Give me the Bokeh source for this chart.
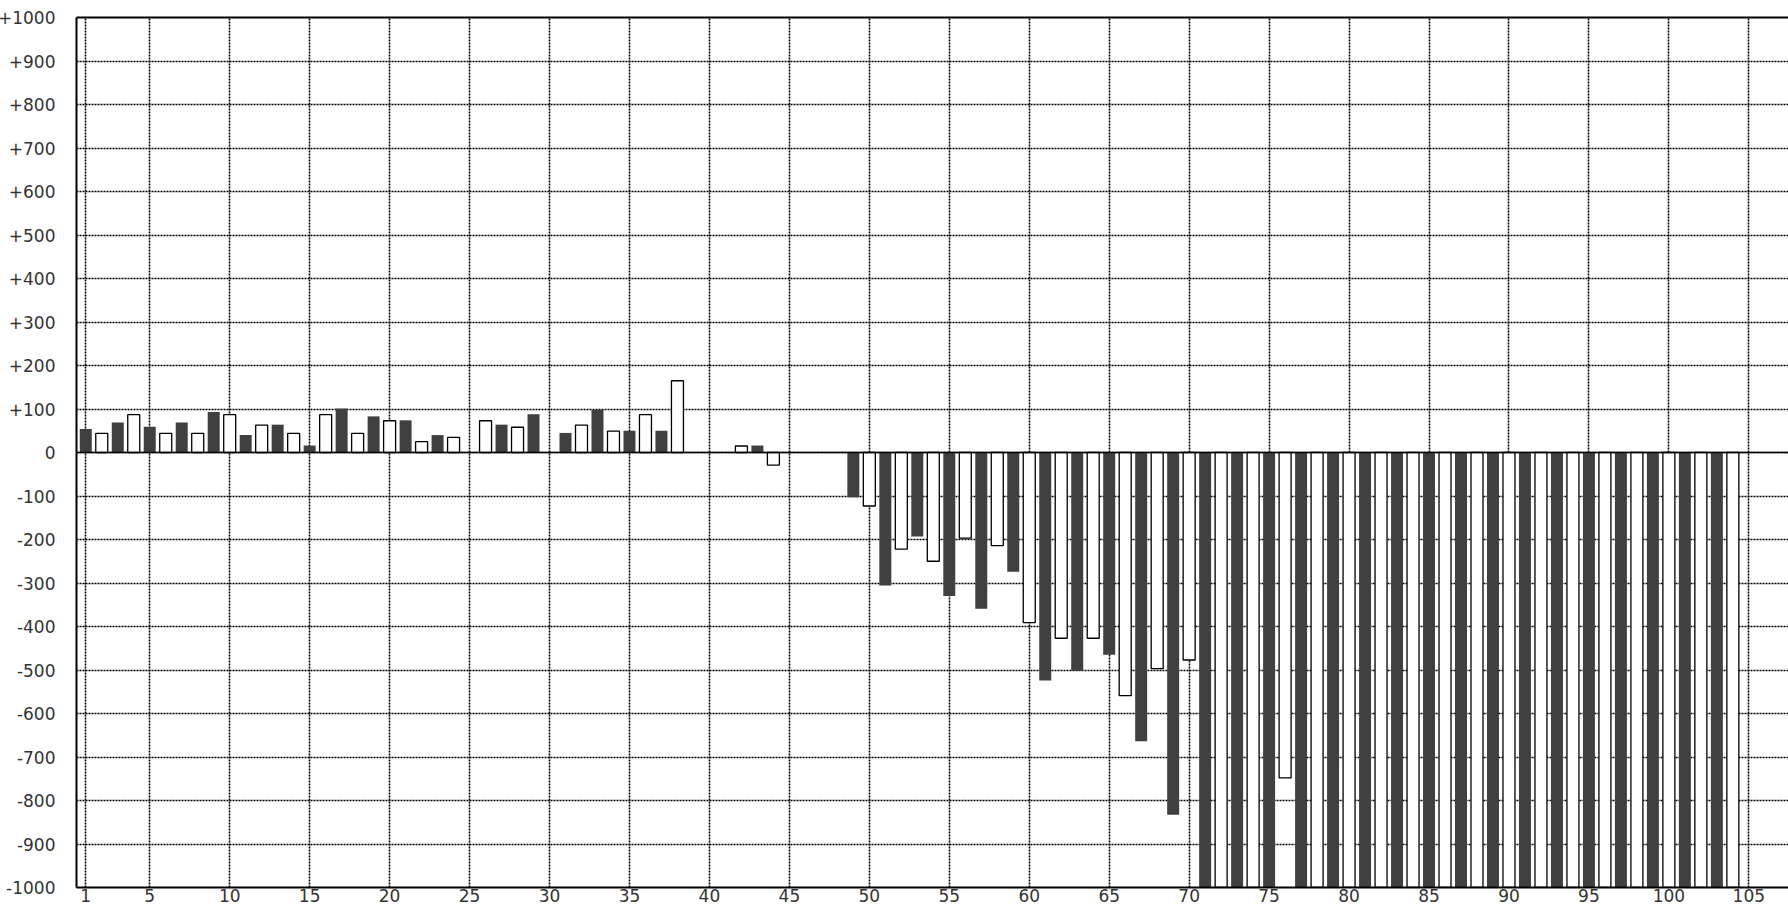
import numpy as np
from bokeh.plotting import figure
from bokeh.models import Range1d, FixedTicker, LinearAxis, Span
from bokeh.embed import file_html
from bokeh.resources import INLINE

# ---- data; None = no bar drawn ----
# filled series: odd positions 1..103
filled_x = list(range(1, 104, 2))
filled_values = [54, 69, 59, 69, 93, 40, 64, 16, 101, 83,
                 74, 40, None, 64, 88, 45, 98, 50, 50, None,
                 None, 16, None, None, -103, -306, -193, -330, -359, -274,
                 -524, -502, -465, -664, -833,
                 -1000, -1000, -1000, -1000, -1000, -1000, -1000, -1000, -1000,
                 -1000, -1000, -1000, -1000, -1000, -1000, -1000, -1000]
# open series: even positions 2..104
open_x = list(range(2, 105, 2))
open_values = [44, 87, 44, 44, 87, 63, 44, 87, 44, 73,
               25, 35, 73, 58, None, 63, 49, 87, 165, None,
               15, -29, None, None, -123, -222, -250, -197, -214, -391,
               -427, -427, -559, -497, -477, -1000, -1000, -748,
               -1000, -1000, -1000, -1000, -1000, -1000, -1000, -1000,
               -1000, -1000, -1000, -1000, -1000, -1000]

x_tick_values = [1, 5, 10, 15, 20, 25, 30, 35, 40, 45, 50, 55, 60, 65, 70,
                 75, 80, 85, 90, 95, 100, 105]
y_tick_values = list(range(-1000, 1001, 100))
y_tick_labels = ["-1000", "-900", "-800", "-700", "-600", "-500", "-400", "-300",
                 "-200", "-100", "0", "+100", "+200", "+300", "+400", "+500",
                 "+600", "+700", "+800", "+900", "+1000"]

FONT = "DejaVu Sans"
LABEL_COLOR = "#333333"

p = figure(width=1794, height=908,
           x_range=Range1d(0.42, 107.48), y_range=Range1d(-1000, 1000),
           output_backend="svg", toolbar_location=None,
           min_border_left=81, min_border_top=17, min_border_right=0, min_border_bottom=21)
p.margin = (0, 0, 0, -6)
p.outline_line_color = None
p.background_fill_color = "white"
p.border_fill_color = "white"

# bars
p.vbar(x=filled_x, top=np.array(filled_values, dtype=float), width=0.75,
       fill_color="#404040", line_color=None)
p.vbar(x=open_x, top=np.array(open_values, dtype=float), width=0.75,
       fill_color="white", line_color="black", line_width=1.3)

# zero line on top of bars
p.add_layout(Span(location=0, dimension="width", line_color="black", line_width=1.5))

# axes
xa = p.xaxis[0]
xa.ticker = FixedTicker(ticks=x_tick_values)
ya = p.yaxis[0]
ya.ticker = FixedTicker(ticks=y_tick_values)
ya.major_label_overrides = {v: s for v, s in zip(y_tick_values, y_tick_labels)}

for ax in (xa, ya):
    ax.major_tick_out = 0
    ax.major_tick_in = 0
    ax.minor_tick_out = 0
    ax.minor_tick_in = 0
    ax.axis_line_color = "black"
    ax.axis_line_width = 2
    ax.major_label_text_font = FONT
    ax.major_label_text_font_size = "17px"
    ax.major_label_text_color = LABEL_COLOR
xa.major_label_standoff = 1
ya.major_label_standoff = 21

# top border line
top = LinearAxis(ticker=FixedTicker(ticks=[]), axis_line_width=2, axis_line_color="black",
                 major_tick_out=0, major_tick_in=0, minor_tick_out=0, minor_tick_in=0,
                 major_label_standoff=0)
p.add_layout(top, "above")

# grid
p.xgrid.ticker = FixedTicker(ticks=x_tick_values)
p.ygrid.ticker = FixedTicker(ticks=y_tick_values)
for g in (p.xgrid[0], p.ygrid[0]):
    g.grid_line_color = "black"
    g.grid_line_dash = "2 1"
    g.grid_line_width = 1.6
    g.grid_line_alpha = 1.0

open("out.html", "w").write(file_html(p, INLINE))
